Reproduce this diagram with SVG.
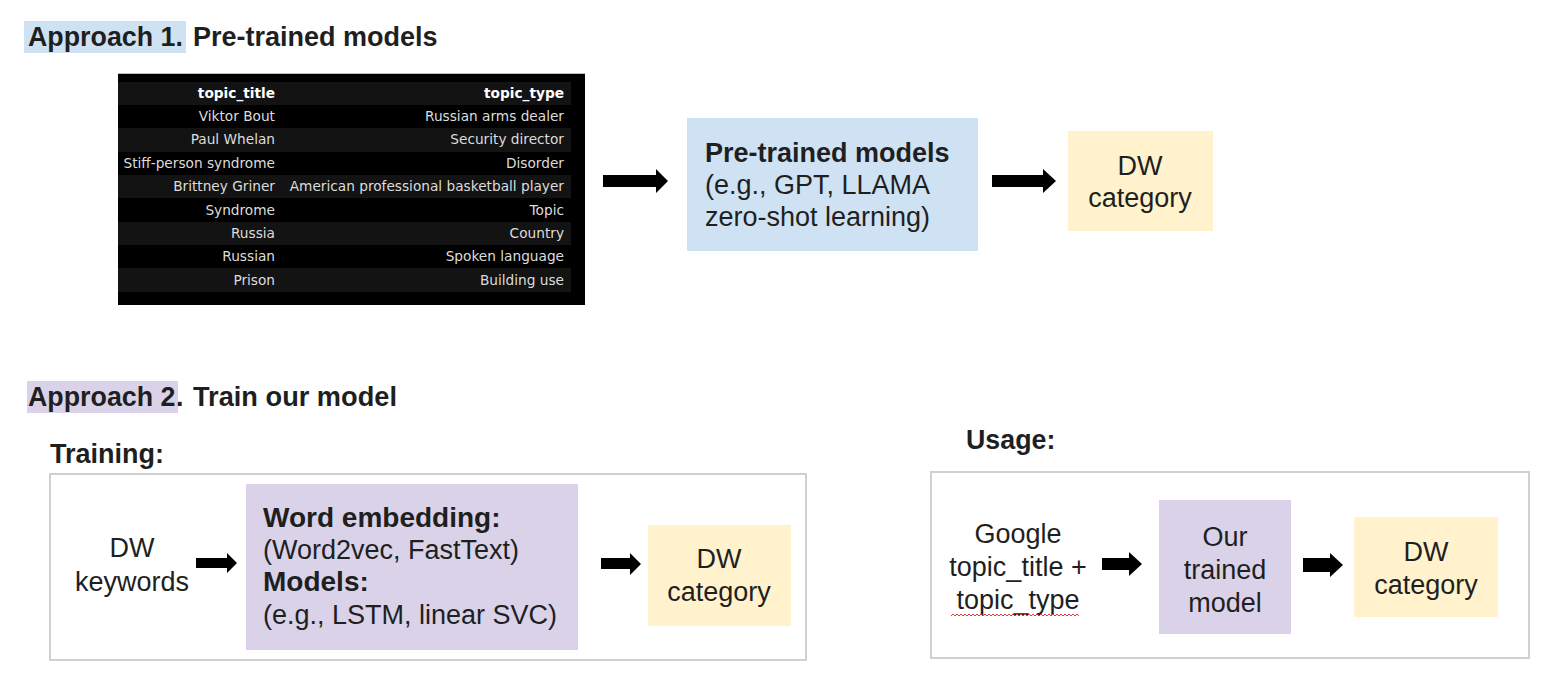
<svg xmlns="http://www.w3.org/2000/svg" width="1566" height="686" viewBox="0 0 1566 686">
<defs>
<style>
.t{font-family:"Liberation Sans",Arial,sans-serif;fill:#1f1f1f}
.h{font-size:26.8px;font-weight:bold}
.b{font-size:27px}
.bb{font-size:28px;font-weight:bold}
.c{text-anchor:middle}
.tb{font-family:"DejaVu Sans",sans-serif;font-size:13.7px;fill:#dcdcdc;text-anchor:end}
.tbh{font-weight:bold;fill:#ffffff}
.frame{fill:#ffffff;stroke:#d0d0d0;stroke-width:2}
.blue{fill:#cfe2f3}
.purple{fill:#d9d2e9}
.yellow{fill:#fff2cc}
.stripe{fill:#131313}
.arr{fill:#000000}
</style>
</defs>
<rect width="1566" height="686" fill="#ffffff"/>

<g id="title1">
<rect x="24" y="21" width="162" height="32" class="blue"/>
<text x="28" y="46" class="t h">Approach 1.</text>
<text x="193" y="46" class="t h" style="font-size:27px">Pre-trained models</text>
</g>

<g id="table">
<rect x="118" y="73" width="467" height="232" fill="#000000"/>
<rect x="118" y="73" width="467" height="1" fill="#9fc5e8"/>
<rect x="118" y="82" width="453" height="23" class="stripe"/>
<rect x="118" y="128" width="453" height="24" class="stripe"/>
<rect x="118" y="175" width="453" height="23" class="stripe"/>
<rect x="118" y="222" width="453" height="23" class="stripe"/>
<rect x="118" y="268" width="453" height="24" class="stripe"/>
<text x="275" y="98" class="tb tbh">topic_title</text>
<text x="564" y="98" class="tb tbh">topic_type</text>
<text x="275" y="121" class="tb">Viktor Bout</text>
<text x="564" y="121" class="tb">Russian arms dealer</text>
<text x="275" y="144" class="tb">Paul Whelan</text>
<text x="564" y="144" class="tb">Security director</text>
<text x="275" y="168" class="tb">Stiff-person syndrome</text>
<text x="564" y="168" class="tb">Disorder</text>
<text x="275" y="191" class="tb">Brittney Griner</text>
<text x="564" y="191" class="tb">American professional basketball player</text>
<text x="275" y="215" class="tb">Syndrome</text>
<text x="564" y="215" class="tb">Topic</text>
<text x="275" y="238" class="tb">Russia</text>
<text x="564" y="238" class="tb">Country</text>
<text x="275" y="261" class="tb">Russian</text>
<text x="564" y="261" class="tb">Spoken language</text>
<text x="275" y="285" class="tb">Prison</text>
<text x="564" y="285" class="tb">Building use</text>
</g>

<g id="pretrained">
<rect x="687" y="118" width="291" height="133" class="blue"/>
<text x="705" y="162" class="t bb" style="font-size:27px">Pre-trained models</text>
<text x="705" y="194" class="t b">(e.g., GPT, LLAMA</text>
<text x="705" y="226" class="t b">zero-shot learning)</text>
</g>

<g id="dw1">
<rect x="1068" y="131" width="145" height="100" class="yellow"/>
<text x="1140" y="175" class="t b c">DW</text>
<text x="1140" y="207" class="t b c">category</text>
</g>

<g id="title2">
<rect x="27" y="381" width="151" height="32" class="purple"/>
<text x="28" y="406" class="t h">Approach 2</text>
<text x="176" y="406" class="t h">.</text>
<text x="193" y="406" class="t h" style="font-size:27.2px">Train our model</text>
</g>

<g id="training">
<text x="50" y="463" class="t h" style="font-size:27px">Training:</text>
<rect x="50" y="474" width="756" height="186" class="frame"/>
</g>

<g id="keywords">
<text x="132" y="557" class="t b c">DW</text>
<text x="132" y="591" class="t b c">keywords</text>
</g>

<g id="embedding">
<rect x="246" y="484" width="332" height="166" class="purple"/>
<text x="263" y="527" class="t bb">Word embedding:</text>
<text x="263" y="559" class="t b">(Word2vec, FastText)</text>
<text x="263" y="591" class="t bb">Models:</text>
<text x="263" y="624" class="t b">(e.g., LSTM, linear SVC)</text>
</g>

<g id="dw2">
<rect x="648" y="525" width="143" height="101" class="yellow"/>
<text x="719" y="568" class="t b c">DW</text>
<text x="719" y="601" class="t b c">category</text>
</g>

<g id="usage">
<text x="966" y="449" class="t h">Usage:</text>
<rect x="931" y="472" width="598" height="186" class="frame"/>
</g>

<g id="google">
<text x="1018" y="543" class="t b c">Google</text>
<text x="1018" y="576" class="t b c">topic_title +</text>
<text x="1018" y="609" class="t b c">topic_type</text>
<polyline points="951,616 953,614 955,616 957,614 959,616 961,614 963,616 965,614 967,616 969,614 971,616 973,614 975,616 977,614 979,616 981,614 983,616 985,614 987,616 989,614 991,616 993,614 995,616 997,614 999,616 1001,614 1003,616 1005,614 1007,616 1009,614 1011,616 1013,614 1015,616 1017,614 1019,616 1021,614 1023,616 1025,614 1027,616 1029,614 1031,616 1033,614 1035,616 1037,614 1039,616 1041,614 1043,616 1045,614 1047,616 1049,614 1051,616 1053,614 1055,616 1057,614 1059,616 1061,614 1063,616 1065,614 1067,616 1069,614 1071,616 1073,614 1075,616 1077,614 1079,616" fill="none" stroke="#e53935" stroke-width="1"/>
</g>

<g id="ourmodel">
<rect x="1159" y="500" width="132" height="134" class="purple"/>
<text x="1225" y="546" class="t b c">Our</text>
<text x="1225" y="579" class="t b c">trained</text>
<text x="1225" y="612" class="t b c">model</text>
</g>

<g id="dw3">
<rect x="1354" y="517" width="144" height="100" class="yellow"/>
<text x="1426" y="561" class="t b c">DW</text>
<text x="1426" y="594" class="t b c">category</text>
</g>

<g id="connectors">
<polygon class="arr" points="603,175 656,175 656,169 668,181 656,193 656,187 603,187"/>
<polygon class="arr" points="992,175 1043,175 1043,169 1056,181 1043,193 1043,187 992,187"/>
<polygon class="arr" points="196,558 227,558 227,553 237,563 227,573 227,568 196,568"/>
<polygon class="arr" points="601,558 630,558 630,553 641,564 630,575 630,569 601,569"/>
<polygon class="arr" points="1102,558 1129,558 1129,552 1142,564 1129,576 1129,570 1102,570"/>
<polygon class="arr" points="1303,558 1330,558 1330,553 1343,565 1330,577 1330,572 1303,572"/>
</g>
</svg>
